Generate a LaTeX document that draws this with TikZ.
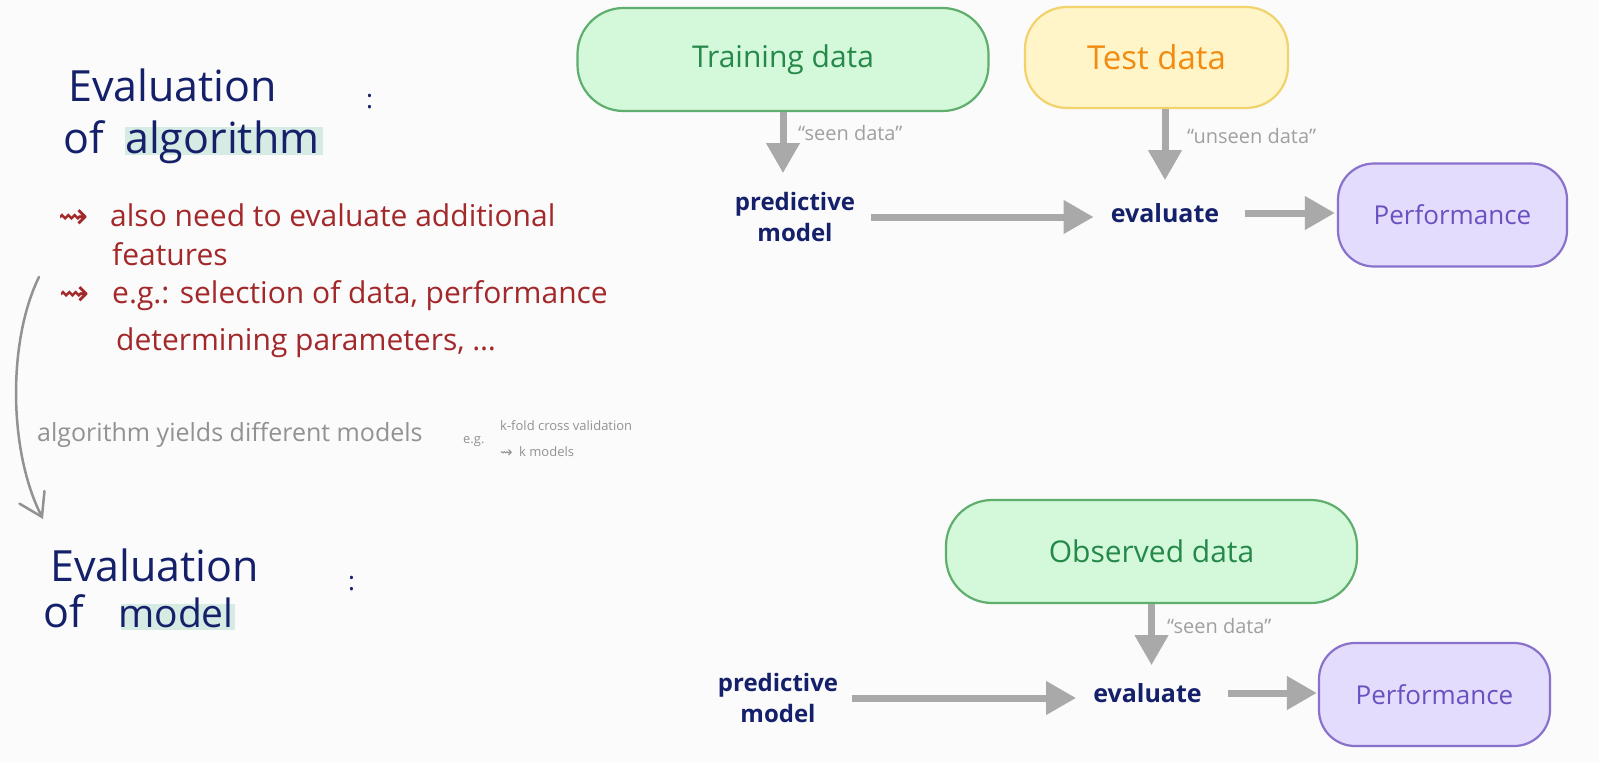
\documentclass[tikz,border=0pt]{standalone}
\usepackage{fontspec}
\setmainfont{Open Sans}
\newfontfamily\symfont{DejaVu Sans}
\usetikzlibrary{arrows.meta}
\definecolor{bgc}{HTML}{FBFBFB}
\definecolor{navy}{HTML}{15206B}
\definecolor{redt}{HTML}{A3282A}
\definecolor{grayarr}{HTML}{A9A9A9}
\definecolor{grayt}{HTML}{929292}
\definecolor{graysm}{HTML}{A0A0A0}
\definecolor{greenfill}{HTML}{D4F8DA}
\definecolor{greenline}{HTML}{5FAE6E}
\definecolor{greentext}{HTML}{25894A}
\definecolor{yelfill}{HTML}{FFF5C8}
\definecolor{yelline}{HTML}{F2D26B}
\definecolor{yeltext}{HTML}{F08C12}
\definecolor{purfill}{HTML}{E4DCFC}
\definecolor{purline}{HTML}{8A72CC}
\definecolor{purtext}{HTML}{6A50C0}
\definecolor{hilite}{HTML}{D5EBE3}
\newcommand\fsz[2]{\fontsize{#1}{#2}\selectfont}
\begin{document}
\begin{tikzpicture}[x=1pt,y=-1pt,
  box/.style={draw, line width=2.2pt, inner sep=0pt, minimum height=103pt},
  gbox/.style={box, rounded corners=46pt, fill=greenfill, draw=greenline, text=greentext, font=\fsz{30}{36}},
  ybox/.style={box, rounded corners=42pt, fill=yelfill, draw=yelline, text=yeltext, font=\fsz{33}{40}},
  pbox/.style={box, rounded corners=36pt, fill=purfill, draw=purline, text=purtext, font=\fsz{26}{32}},
  navytxt/.style={inner sep=0pt, text=navy, font=\bfseries\fsz{24}{31}, align=center},
  evtxt/.style={inner sep=0pt, text=navy, font=\bfseries\fsz{25}{31}},
  lbl/.style={inner sep=0pt, anchor=base west, text=graysm, font=\fsz{20}{24}},
  hand/.style={inner sep=0pt, anchor=base west},
  title/.style={hand, text=navy, font=\fsz{43}{50}},
  redline/.style={hand, text=redt, font=\fsz{30}{36}},
  redsym/.style={hand, text=redt, font=\symfont\fsz{36}{40}},
  grayline/.style={hand, text=grayt, font=\fsz{25}{30}},
  smallg/.style={hand, text=grayt, font=\fsz{13}{16}},
  arr/.style={draw=grayarr, line width=7pt, -{Triangle[length=30pt,width=32pt]}},
  curvearr/.style={draw=grayt, line width=2.5pt, line cap=round, -{Straight Barb[length=22pt,width=28pt,line cap=round]}},
]
\useasboundingbox (0,0) rectangle (1599,763);
\fill[bgc] (0,0) rectangle (1599,763);

% ---------- top diagram ----------
\node[gbox, minimum width=411pt] (train) at (783,59.5) {Training data};
\node[ybox, minimum width=263pt, minimum height=101pt] (test) at (1156.5,57.5) {Test data};
\node[pbox, minimum width=229pt] (perf1) at (1452.5,215) {Performance};
\node[navytxt] (pm1) at (795,217) {predictive\\model};
\node[evtxt] (ev1) at (1165,213) {evaluate};
\node[lbl] (seen1) at (798,140) {“seen data”};
\node[lbl] (unseen) at (1187,143) {“unseen data”};

\draw[arr, shorten >=19pt] (train.south) -- (train.south |- pm1.north);
\draw[arr, shorten >=23pt] (ev1 |- test.south) -- (ev1.north);
\draw[arr, shorten <=16pt, shorten >=17pt] (pm1.east) -- (pm1.east -| ev1.west);
\draw[arr, shorten <=26pt, shorten >=2pt] (ev1.east) -- (ev1.east -| perf1.west);

% ---------- bottom diagram ----------
\node[gbox, minimum width=411pt] (obs) at (1151.5,551.5) {Observed data};
\node[pbox, minimum width=231pt] (perf2) at (1434.5,694.5) {Performance};
\node[navytxt] (pm2) at (778,698) {predictive\\model};
\node[evtxt] (ev2) at (1147.5,693) {evaluate};
\node[lbl] (seen2) at (1167,633) {“seen data”};

\draw[arr, shorten >=18pt] (obs.south) -- (obs.south |- ev2.north);
\draw[arr, shorten <=14pt, shorten >=17pt] (pm2.east) -- (pm2.east -| ev2.west);
\draw[arr, shorten <=26pt, shorten >=1pt] (ev2.east) -- (ev2.east -| perf2.west);

% ---------- left notes ----------
\fill[hilite] (125,127) rectangle (323,155);
\node[title] (eval1) at (68,101) {Evaluation};
\node[title] (of1) at (63,153) {of};
\node[title] (alg) at (125,153) {algorithm};
\node[hand, text=navy, font=\fsz{26}{30}] (colon1) at (366,108) {:};

\node[redsym] (sq1) at (58,228) {⇝};
\node[redline] (r1) at (110,226) {also need to evaluate additional};
\node[redline] (r2) at (112,265) {features};
\node[redsym] (sq2) at (59,305) {⇝};
\node[redline] (r3) at (112,303) {e.g.: selection of data, performance};
\node[redline] (r4) at (116,350) {determining parameters, …};

\coordinate (cA) at (39,277);
\coordinate (cB) at (43,519);
\draw[curvearr] (cA) .. controls (8,340) and (8,450) .. (cB);

\node[grayline] (yields) at (37,441) {algorithm yields different models};
\node[smallg] (eg) at (463,443) {e.g.};
\node[smallg] (kfold) at (500,430) {k-fold cross validation};
\node[smallg, font=\symfont\fsz{15}{18}] (sq3) at (500,457) {⇝};
\node[smallg] (kmod) at (519,456) {k models};

\fill[hilite] (121,604) rectangle (235,630);
\node[title] (eval2) at (50,581) {Evaluation};
\node[title] (of2) at (43,627) {of};
\node[title, font=\fsz{39}{46}] (model) at (118,627) {model};
\node[hand, text=navy, font=\fsz{26}{30}] (colon2) at (348,590) {:};
\end{tikzpicture}
\end{document}
